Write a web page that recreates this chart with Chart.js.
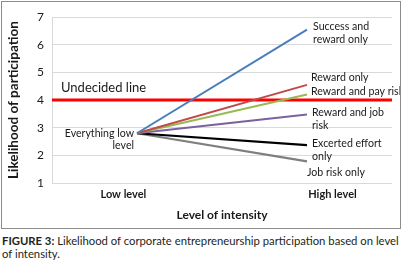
<!DOCTYPE html>
<html>
<head>
<meta charset="utf-8">
<script src="https://cdn.jsdelivr.net/npm/chart.js@4.4.0/dist/chart.umd.min.js"></script>
<style>
  body { margin: 0; background: #fff; }
  #box { position: absolute; left: 1px; top: 1px; width: 398px; height: 226px; border: 1px solid #8c8c8c; }
  #caption { position: absolute; left: 2px; top: 234px; font-family: Lato, sans-serif; font-size: 11.3px; line-height: 13px; color: #231f20; white-space: nowrap; }
</style>
</head>
<body>
<div id="box"><canvas id="chart" width="398" height="226"></canvas></div>
<div id="caption"><b>FIGURE 3:</b> Likelihood of corporate entrepreneurship participation based on level<br>of intensity.</div>
<script>
// categories on the x axis
const categories = ['Low level', 'High level'];
const levels = [1, 2];

// every scenario starts from the same low-level point
const seriesNames = ['Success and reward only', 'Reward only', 'Reward and pay risk', 'Reward and job risk', 'Excerted effort only', 'Job risk only'];
const lowValues = [2.8, 2.8, 2.8, 2.8, 2.8, 2.8];
const highValues = [6.55, 4.55, 4.2, 3.48, 2.37, 1.78];
const seriesColors = ['#4a7ebb', '#be4b48', '#98b954', '#7d60a0', '#000000', '#7f7f7f'];

// undecided threshold
const undecidedValue = 4;

const yTicks = [1, 2, 3, 4, 5, 6, 7];

const textColor = '#1a1a1a';
const font = 'Lato';

const datasets = seriesNames.map((name, i) => ({
    label: name,
    data: [{ x: levels[0], y: lowValues[i] }, { x: levels[1], y: highValues[i] }],
    borderColor: seriesColors[i],
    borderWidth: i >= 4 ? 2.2 : 2,
    pointRadius: 0,
    fill: false
}));

datasets.push({
    label: 'Undecided line',
    data: [{ x: 0.5, y: undecidedValue }, { x: 2.5, y: undecidedValue }],
    borderColor: '#ff0000',
    borderWidth: 3,
    pointRadius: 0,
    fill: false
});

// labels next to the lines
const lineLabels = {
    id: 'lineLabels',
    afterDatasetsDraw(chart) {
        const ctx = chart.ctx;
        const xs = chart.scales.x, ys = chart.scales.y;
        const xHigh = xs.getPixelForValue(levels[1]);
        const xLow = xs.getPixelForValue(levels[0]);
        ctx.save();
        ctx.fillStyle = textColor;
        ctx.textBaseline = 'middle';
        ctx.font = '10.6px ' + font;

        const endLabels = [
            { lines: ['Success and', 'reward only'], dx: 6, dy: -3 },
            { lines: ['Reward only'], dx: 4, dy: -7 },
            { lines: ['Reward and pay risk'], dx: 4, dy: -3 },
            { lines: ['Reward and job', 'risk'], dx: 5, dy: -2 },
            { lines: ['Excerted effort', 'only'], dx: 5, dy: -2 },
            { lines: ['Job risk only'], dx: 0, dy: 11 }
        ];
        ctx.textAlign = 'left';
        endLabels.forEach((l, i) => {
            const y = ys.getPixelForValue(highValues[i]) + l.dy;
            l.lines.forEach((t, k) => ctx.fillText(t, xHigh + l.dx, y + k * 13));
        });

        // start label
        ctx.textAlign = 'right';
        const y0 = ys.getPixelForValue(lowValues[0]);
        ctx.fillText('Everything low', xLow - 3, y0);
        ctx.fillText('level', xLow - 3, y0 + 12);

        // undecided label
        ctx.textAlign = 'left';
        ctx.font = '13px ' + font;
        ctx.fillText('Undecided line', chart.chartArea.left + 9, ys.getPixelForValue(undecidedValue) - 12);
        ctx.restore();
    }
};

const ctx = document.getElementById('chart').getContext('2d');
const chart = new Chart(ctx, {
    type: 'line',
    data: { datasets: datasets },
    options: {
        responsive: false,
        animation: false,
        layout: { padding: { top: 13, right: 8, left: 0, bottom: 0 } },
        plugins: { legend: { display: false }, tooltip: { enabled: false } },
        elements: { line: { tension: 0 } },
        scales: {
            x: {
                type: 'linear',
                min: 0.5,
                max: 2.5,
                grid: { display: false, drawTicks: false },
                border: { display: false },
                afterBuildTicks: s => { s.ticks = [{ value: 0.92 }, { value: 2.15 }]; },
                ticks: {
                    callback: (v, i) => categories[i],
                    font: { family: font, size: 11, weight: 'bold' },
                    color: textColor,
                    padding: 5,
                    maxRotation: 0,
                    autoSkip: false
                },
                title: {
                    display: true,
                    text: 'Level of intensity',
                    font: { family: font, size: 12, weight: 'bold' },
                    color: textColor,
                    padding: { top: 0, bottom: 6 }
                },
                afterFit: s => { s.height = 45; }
            },
            y: {
                min: 1,
                max: 7,
                afterBuildTicks: s => { s.ticks = yTicks.map(v => ({ value: v })); },
                grid: { color: '#d9d9d9', drawTicks: false },
                border: { color: '#d9d9d9' },
                ticks: { font: { family: font, size: 12 }, color: textColor, padding: 8 },
                title: {
                    display: true,
                    text: 'Likelihood of participation',
                    font: { family: font, size: 13.5, weight: 'bold' },
                    color: textColor,
                    padding: { top: 4, bottom: 0 }
                },
                afterFit: s => { s.width = 50; }
            }
        }
    },
    plugins: [lineLabels]
});
</script>
</body>
</html>
